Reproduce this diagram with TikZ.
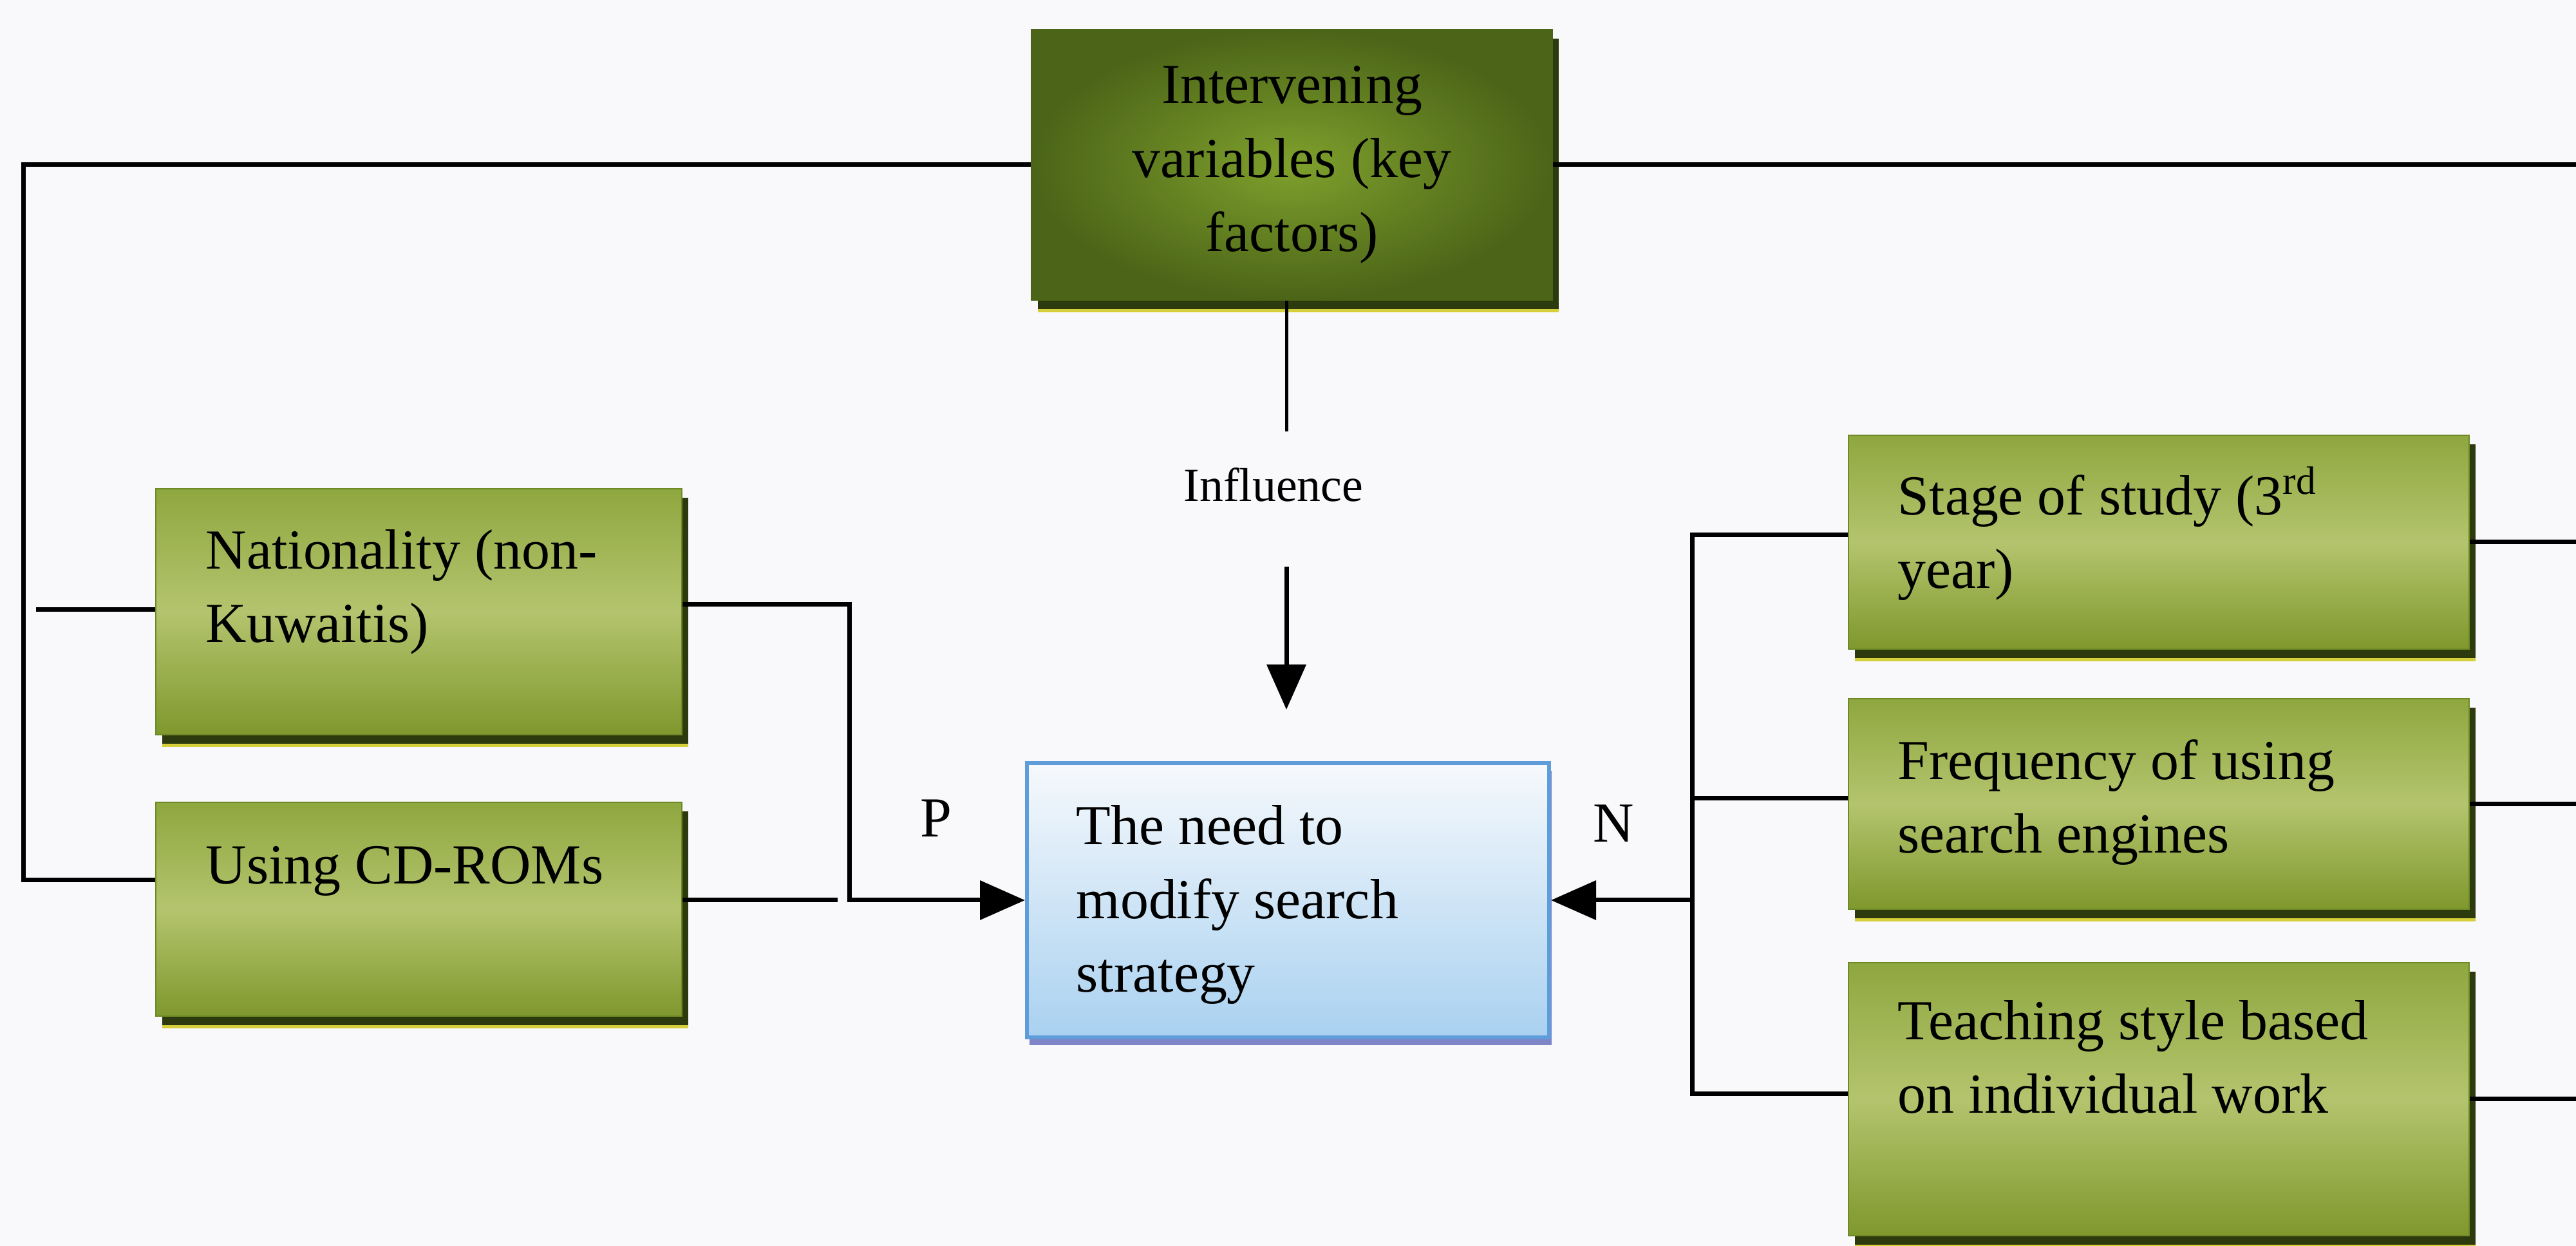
\documentclass[tikz,border=0pt]{standalone}
\usepackage{fontspec}
\setmainfont{Liberation Serif}
\usetikzlibrary{arrows.meta,shadows}

\definecolor{paper}{HTML}{F9F9FC}
\definecolor{olivedark}{HTML}{4B6418}
\definecolor{olivemid}{HTML}{7FA02C}
\definecolor{leaftop}{HTML}{8FA73F}
\definecolor{leafmid}{HTML}{B4C46E}
\definecolor{leafbot}{HTML}{7F982D}
\definecolor{leafedge}{HTML}{6E8A26}
\definecolor{shadowgreen}{HTML}{2D3A0E}
\definecolor{rimyellow}{HTML}{D6CF3C}
\definecolor{skytop}{HTML}{F6F9FC}
\definecolor{skybot}{HTML}{A9D1F0}
\definecolor{skyedge}{HTML}{5E9DD9}
\definecolor{skyshadow}{HTML}{7F86C8}

\tikzset{
  txt/.style={font=\fontsize{25}{32.7}\selectfont, inner sep=0pt, align=left},
  smalltxt/.style={font=\fontsize{21}{26}\selectfont, inner sep=0pt},
  greenshadow/.style={
    drop shadow={shadow xshift=0.10cm, shadow yshift=-0.19cm, opacity=1, fill=rimyellow, draw=none},
    drop shadow={shadow xshift=0.10cm, shadow yshift=-0.14cm, opacity=1, fill=shadowgreen, draw=none}},
  factor/.style={greenshadow, draw=leafedge, line width=0.02cm,
    top color=leaftop, bottom color=leafbot, middle color=leafmid, inner sep=0pt},
  keybox/.style={greenshadow, draw=olivedark, line width=0.02cm,
    inner color=olivemid, outer color=olivedark, inner sep=0pt},
  goal/.style={drop shadow={shadow xshift=0.04cm, shadow yshift=-0.12cm, opacity=1, fill=skyshadow, draw=none},
    draw=skyedge, line width=0.06cm, top color=skytop, bottom color=skybot, inner sep=0pt},
  wire/.style={line width=0.07cm, black},
  thinwire/.style={line width=0.05cm, black},
  feed/.style={wire, -{Triangle[length=0.7cm,width=0.6cm]}},
}

\begin{document}
\begin{tikzpicture}
\fill[paper] (0,0) rectangle (40.01,19.35);
\useasboundingbox (0,0) rectangle (40.01,19.35);

% key factor box at the top
\node[keybox, minimum width=8.09cm, minimum height=4.20cm, align=center,
      font=\fontsize{25}{32.7}\selectfont] (iv) at (20.065,16.79)
      {Intervening\\variables (key\\factors)};

% outcome box (text nodes are placed by the baseline of their last line)
\node[goal, minimum width=8.11cm, minimum height=4.26cm] (need) at (20.005,5.37) {};
\node[txt, anchor=base west] (needT) at (16.71,3.94) {The need to\\modify search\\strategy};

% positive factors (left)
\node[factor, minimum width=8.17cm, minimum height=3.82cm] (nat) at (6.505,9.85) {};
\node[txt, anchor=base west] (natT) at (3.19,9.37) {Nationality (non-\\Kuwaitis)};
\node[factor, minimum width=8.17cm, minimum height=3.32cm] (cd) at (6.505,5.23) {};
\node[txt, anchor=base west] (cdT) at (3.19,5.62) {Using CD-ROMs};

% negative factors (right)
\node[factor, minimum width=9.64cm, minimum height=3.32cm] (stage) at (33.53,10.93) {};
\node[txt, anchor=base west] (stageT) at (29.47,10.21) {Stage of study (3\textsuperscript{rd}\\year)};
\node[factor, minimum width=9.64cm, minimum height=3.27cm] (freq) at (33.53,6.865) {};
\node[txt, anchor=base west] (freqT) at (29.47,6.10) {Frequency of using\\search engines};
\node[factor, minimum width=9.64cm, minimum height=4.24cm] (teach) at (33.53,2.28) {};
\node[txt, anchor=base west] (teachT) at (29.47,2.06) {Teaching style based\\on individual work};

% labels
\node[smalltxt] (infl) at (19.78,11.82) {Influence};
\node[txt] (pos) at (14.54,6.64) {P};
\node[txt] (neg) at (25.06,6.56) {N};

% frame line from the key box round the left side
\coordinate (cornerL) at (0.36,16.79);
\coordinate (cornerLB) at (0.36,5.68);
\coordinate (edgeR) at (40.01,16.79);
\draw[wire] (iv.west) -- (cornerL) -- (cornerLB) -- (cornerLB -| cd.west);
\draw[wire] (iv.east) -- (edgeR);

% left side into the outcome
\coordinate (natStub) at (0.56,9.88);
\draw[wire] (natStub) -- (natStub -| nat.west);
\coordinate (joinP) at (13.19,5.37);
\draw[feed] ([yshift=0.11cm]nat.east) -| (joinP) -- (need.west);
\coordinate (cdEnd) at (13.01,5.37);
\draw[wire] (cdEnd -| cd.east) -- (cdEnd);

% right side bus into the outcome
\coordinate (busTop) at (26.28,11.04);
\coordinate (busMid) at (26.28,6.95);
\coordinate (busBot) at (26.28,2.36);
\coordinate (busN) at (26.28,5.37);
\draw[wire] (busTop -| stage.west) -- (busTop) -- (busBot) -- (busBot -| teach.west);
\draw[wire] (busMid) -- (busMid -| freq.west);
\draw[feed] (busN) -- (need.east);

% stubs leaving the right boxes
\draw[wire] (stage.east) -- (stage.east -| edgeR);
\draw[wire] (freq.east) -- (freq.east -| edgeR);
\draw[wire] (teach.east) -- (teach.east -| edgeR);

% influence of the key factors
\coordinate (inflTop) at (19.98,12.65);
\coordinate (inflFrom) at (19.98,10.55);
\coordinate (inflTo) at (19.98,8.33);
\draw[thinwire] (iv.south -| inflTop) -- (inflTop);
\draw[feed] (inflFrom) -- (inflTo);
\end{tikzpicture}
\end{document}
